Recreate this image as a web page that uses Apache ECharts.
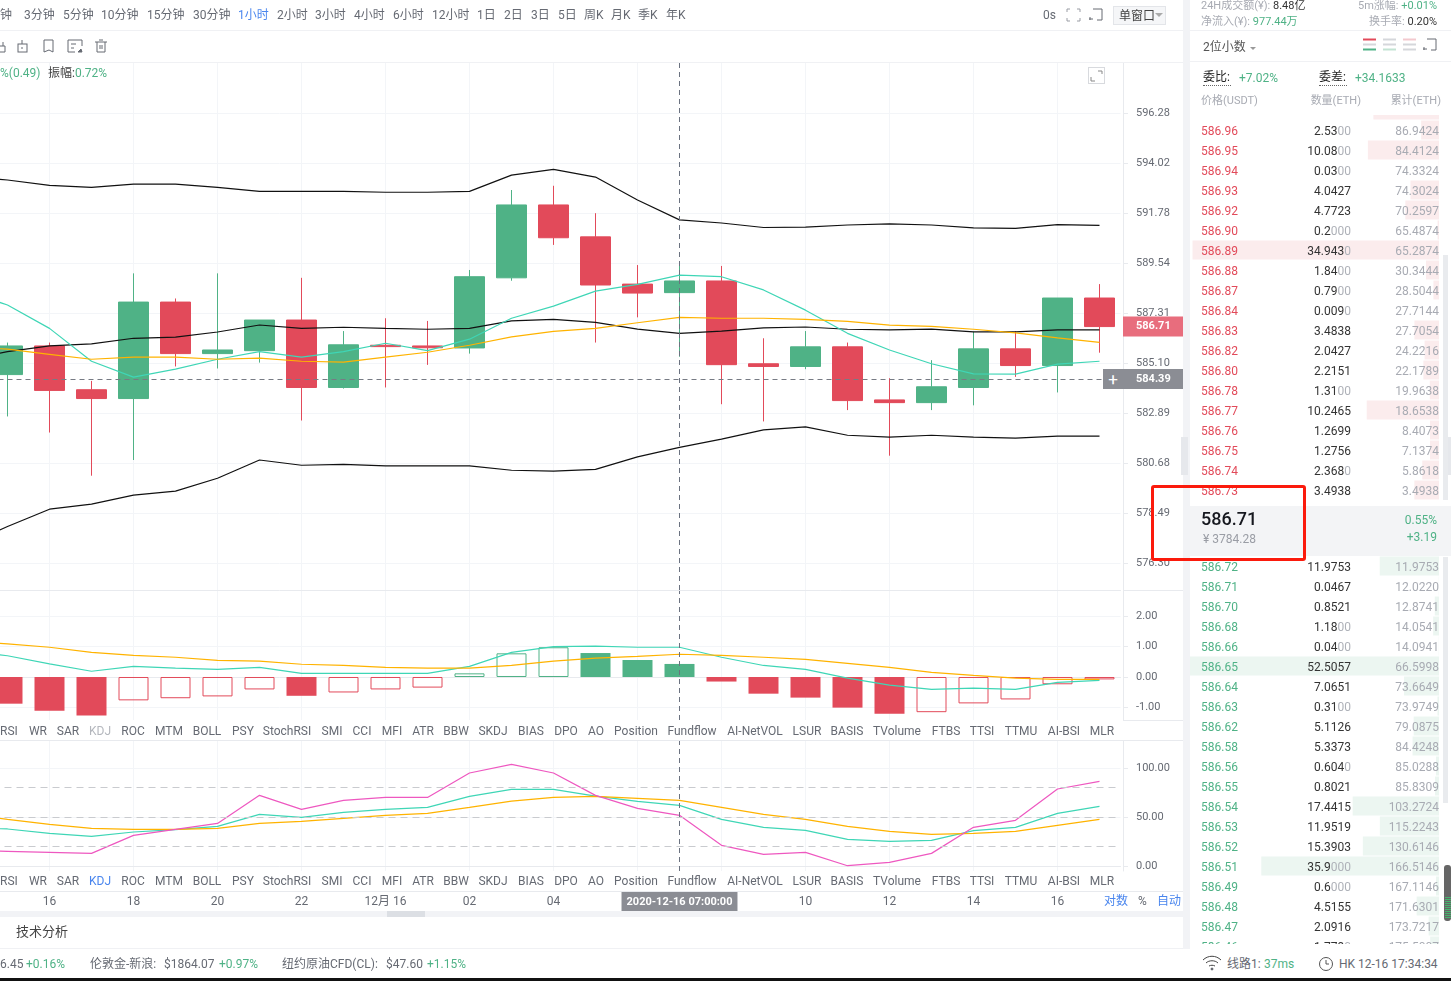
<!DOCTYPE html>
<html>
<head>
<meta charset="utf-8">
<title>ETH/USDT</title>
<script src="https://cdn.jsdelivr.net/npm/echarts@6/dist/echarts.min.js"></script>
<style>
html,body{margin:0;padding:0;background:#fff;overflow:hidden}
#page{position:relative;width:1451px;height:981px;overflow:hidden;font-family:Roboto,"Noto Sans CJK SC",sans-serif;font-size:12px;color:#666a73}
#chart{position:absolute;left:0;top:0;width:1451px;height:981px;z-index:1}
.t{position:absolute;white-space:nowrap;transform:translateY(-50%);z-index:2;line-height:16px}
.b{position:absolute;z-index:3}
</style>
</head>
<body>
<div id="page">
  <div id="chart"></div>
</div>
<script>
var RED = '#e24a5a', GREEN = '#4fb286', TEAL = '#3fd6b6', ORANGE = '#ffb300', PINK = '#ee58c0', BLUE = '#4a86ee';

// 横轴，第一根在画面左边外
var categories = ['', '', '16', '', '18', '', '20', '', '22', '', '12月 16', '', '02', '', '04', '', '', '2020-12-16 07:00:00', '', '', '10', '', '12', '', '14', '', '16', ''];

// K线
var candleOpen  = ['-',584.58,585.85,583.91,583.52,587.80,585.51,585.64,587.00,584.01,585.88,585.85,585.76,588.88,592.14,590.71,588.60,588.22,588.74,585.06,584.94,585.81,583.46,583.34,584.01,585.72,584.98,587.98];
var candleClose = ['-',585.85,583.88,583.52,587.80,585.51,585.67,587.00,584.01,585.90,585.82,585.77,588.93,592.14,590.67,588.56,588.20,588.74,585.02,584.94,585.81,583.43,583.34,584.04,585.72,584.98,587.98,586.71];
var candleLow   = ['-',582.73,582.02,580.12,580.81,584.94,584.85,585.11,582.55,583.96,584.01,585.01,585.51,588.75,590.35,586.00,587.12,585.37,583.27,582.51,584.82,583.01,581.00,583.01,583.22,584.48,583.79,585.55];
var candleHigh  = ['-',586.00,586.00,584.30,589.08,587.96,589.08,587.00,588.88,586.51,587.08,586.96,589.23,592.81,593.00,591.77,589.45,589.57,589.41,586.19,586.51,586.00,584.42,585.22,586.48,586.51,587.98,588.60];

// BOLL 和均线
var bollUpper = [593.39,593.26,593.02,592.93,593.07,593.07,592.93,592.75,592.75,592.75,592.71,592.71,592.75,593.48,593.74,593.39,592.36,591.47,591.33,591.13,591.15,591.24,591.29,591.24,591.11,591.09,591.26,591.22];
var bollMid   = [585.23,585.60,585.85,585.94,586.19,586.24,586.47,586.78,586.63,586.68,586.63,586.59,586.63,586.96,587.03,586.90,586.60,586.41,586.51,586.65,586.69,586.59,586.56,586.60,586.47,586.47,586.56,586.56];
var bollLower = [577.09,577.89,578.65,578.87,579.27,579.44,580.01,580.81,580.58,580.62,580.55,580.55,580.55,580.36,580.32,580.40,580.95,581.37,581.73,582.14,582.27,581.90,581.82,581.90,581.82,581.77,581.86,581.86];
var maFast    = [588.29,587.67,586.63,585.17,584.47,584.82,585.26,585.60,585.35,585.60,585.97,585.64,586.15,587.08,587.62,588.29,588.59,589.00,588.93,588.34,587.44,586.41,585.67,585.06,584.61,584.60,585.04,585.17];
var maSlow    = [585.80,585.71,585.48,585.26,585.35,585.35,585.26,585.31,585.17,585.13,585.35,585.57,585.88,586.25,586.50,586.63,586.88,587.12,587.08,587.08,587.03,586.94,586.77,586.72,586.59,586.43,586.21,586.01];

// MACD
var macdBar    = ['-',-0.88,-1.11,-1.27,-0.77,-0.70,-0.64,-0.41,-0.62,-0.51,-0.41,-0.35,0.12,0.78,0.98,0.79,0.56,0.43,-0.15,-0.55,-0.68,-1.01,-1.21,-1.16,-0.87,-0.74,-0.24,-0.08];
var macdHollow = [0,0,0,0,1,1,1,1,0,1,1,1,1,1,1,0,0,0,0,0,0,0,0,1,1,1,1,1];
var macdDif    = [0.85,0.70,0.43,0.19,0.35,0.29,0.25,0.32,0.12,0.12,0.12,0.12,0.35,0.81,1.00,1.02,0.98,0.98,0.65,0.38,0.25,-0.04,-0.27,-0.41,-0.37,-0.41,-0.18,-0.11];
var macdDea    = [1.20,1.09,0.98,0.81,0.71,0.65,0.55,0.52,0.42,0.38,0.32,0.29,0.29,0.38,0.52,0.62,0.68,0.75,0.71,0.65,0.58,0.45,0.32,0.15,0.05,-0.04,-0.08,-0.08];

// KDJ
var kdjK = [39,37.8,33.3,30.3,34.7,37.1,40.5,52.7,49.7,54.8,57.8,59.9,71.1,78.2,78.2,71.4,66,61.9,47.6,39.5,36.4,27.2,25.2,26.2,36.1,39.5,53.7,60.9];
var kdjD = [53,47.6,42.5,38.4,37.4,37.4,38.4,43.5,45.6,48.6,51.7,53.7,59.9,66.3,70,71.1,69,67,59.9,52.7,47.6,40.5,35.4,32.3,33.3,35.4,41.5,47.6];
var kdjJ = [16,15,13.9,12.9,31.3,37.4,43.5,72.1,57.8,67,70,70,94.9,103.7,94.9,72.1,58.8,51.7,21.1,11.9,13.9,0.3,3.7,12.9,39.5,46.6,78.6,86.4];

// 刻度
var priceTicks = [576.30,578.49,580.68,582.89,585.10,587.31,589.54,591.78,594.02,596.28];
var macdTicks = [-1,0,1,2];
var kdjTicks = [0,50,100];
var kdjLevels = [20,50,80];

// 卖盘，第一行被表头挡住
var askPrice = ['', '586.96','586.95','586.94','586.93','586.92','586.90','586.89','586.88','586.87','586.84','586.83','586.82','586.80','586.78','586.77','586.76','586.75','586.74','586.73'];
var askQty   = ['9.3000','2.5300','10.0800','0.0300','4.0427','4.7723','0.2000','34.9430','1.8400','0.7900','0.0090','3.4838','2.0427','2.2151','1.3100','10.2465','1.2699','1.2756','2.3680','3.4938'];
var askSum   = ['', '86.9424','84.4124','74.3324','74.3024','70.2597','65.4874','65.2874','30.3444','28.5044','27.7144','27.7054','24.2216','22.1789','19.9638','18.6538','8.4073','7.1374','5.8618','3.4938'];
// 买盘，最后一行被底栏挡住
var bidPrice = ['586.72','586.71','586.70','586.68','586.66','586.65','586.64','586.63','586.62','586.58','586.56','586.55','586.54','586.53','586.52','586.51','586.49','586.48','586.47','586.46'];
var bidQty   = ['11.9753','0.0467','0.8521','1.1800','0.0400','52.5057','7.0651','0.3100','5.1126','5.3373','0.6040','0.8021','17.4415','11.9519','15.3903','35.9000','0.6000','4.5155','2.0916','1.7790'];
var bidSum   = ['11.9753','12.0220','12.8741','14.0541','14.0941','66.5998','73.6649','73.9749','79.0875','84.4248','85.0288','85.8309','103.2724','115.2243','130.6146','166.5146','167.1146','171.6301','173.7217','175.5007'];

var periods = [['钟',0],['3分钟',24],['5分钟',63],['10分钟',101],['15分钟',147],['30分钟',193],['1小时',238],['2小时',277],['3小时',315],['4小时',354],['6小时',393],['12小时',432],['1日',477],['2日',504],['3日',531],['5日',558],['周K',584],['月K',611],['季K',638],['年K',666]];
var indicators = [['RSI',9],['WR',38],['SAR',68],['KDJ',100],['ROC',133],['MTM',169],['BOLL',207],['PSY',243],['StochRSI',287],['SMI',332],['CCI',362],['MFI',392],['ATR',423],['BBW',456],['SKDJ',493],['BIAS',531],['DPO',566],['AO',596],['Position',636],['Fundflow',692],['AI-NetVOL',755],['LSUR',807],['BASIS',847],['TVolume',897],['FTBS',946],['TTSI',982],['TTMU',1021],['AI-BSI',1064],['MLR',1102]];

var page = document.getElementById('page');

function txt(x, y, s, color, extra) {
  var d = document.createElement('div');
  d.className = 't';
  d.style.left = x + 'px';
  d.style.top = (y + 1) + 'px';
  if (color) d.style.color = color;
  d.innerHTML = s;
  if (extra) d.style.cssText += extra;
  page.appendChild(d);
  return d;
}
// 右对齐
function txtR(x, y, s, color, extra) {
  return txt(0, y, s, color, 'left:auto;right:' + (1451 - x) + 'px;' + (extra || ''));
}
function box(x, y, w, h, css, html) {
  var d = document.createElement('div');
  d.className = 'b';
  d.style.cssText = 'left:' + x + 'px;top:' + y + 'px;width:' + w + 'px;height:' + h + 'px;' + css;
  if (html) d.innerHTML = html;
  page.appendChild(d);
  return d;
}
function svg(x, y, w, h, body) {
  return box(x, y, w, h, 'z-index:4', '<svg width="' + w + '" height="' + h + '" fill="none" stroke="#666a73" stroke-width="1">' + body + '</svg>');
}

function candleRows() {
  return candleOpen.map(function (o, i) {
    return [o, candleClose[i], candleLow[i], candleHigh[i]];
  });
}
function macdRows() {
  return macdBar.map(function (v, i) {
    var c = v > 0 ? GREEN : RED;
    return {
      value: v,
      itemStyle: macdHollow[i] ? {color: 'rgba(255,255,255,0)', borderColor: c, borderWidth: 1} : {color: c}
    };
  });
}
function lineSeries(name, data, color, xi, yi, extra) {
  var s = {
    name: name, type: 'line', xAxisIndex: xi, yAxisIndex: yi, data: data,
    symbol: 'none', silent: true, lineStyle: {color: color, width: 1.2}, z: 4
  };
  if (extra) s.markLine = extra;
  return s;
}
function crossLine() {
  return {xAxis: 17, lineStyle: {color: '#6b7280', type: [5, 4], width: 1}, label: {show: false}};
}
function kdjMark() {
  var d = kdjLevels.map(function (v) {
    return {yAxis: v, lineStyle: {color: '#c9cbcf', type: [7, 5], width: 1}, label: {show: false}};
  });
  d.push(crossLine());
  return {symbol: 'none', silent: true, animation: false, data: d};
}
function priceTag(v, bg, line) {
  return {
    yAxis: v, lineStyle: line,
    label: {
      show: true, position: 'end', distance: 2.5, formatter: v.toFixed(2), color: '#fff', fontSize: 11, fontWeight: 'bold',
      fontFamily: 'Roboto', backgroundColor: bg, width: 47, height: 20, lineHeight: 20, align: 'left', padding: [0, 0, 0, 13]
    }
  };
}
function xAxisFor(grid, showLabel) {
  return {
    type: 'category', gridIndex: grid, data: categories, boundaryGap: true,
    axisLine: {show: true, lineStyle: {color: '#e8eaee'}},
    axisTick: {show: false},
    splitLine: {
      show: true, alignWithLabel: true,
      interval: function (i) { return i % 2 === 0 && i > 0; },
      lineStyle: {color: '#f3f5f8'}
    },
    axisLabel: {
      show: showLabel, margin: 31, verticalAlign: 'middle', color: '#666a73', fontSize: 12,
      fontFamily: 'Roboto, "Noto Sans CJK SC"',
      interval: function (i, v) { return v !== ''; },
      formatter: function (v) { return v.length > 8 ? '{tag|' + v + '}' : v; },
      rich: {tag: {color: '#fff', backgroundColor: '#8b8d94', padding: [5, 5, 4, 5], fontSize: 11, fontWeight: 'bold'}}
    }
  };
}
function yAxisFor(grid, ticks, min, max, digits, extra) {
  var y = {
    type: 'value', gridIndex: grid, position: 'right', offset: 2.5, min: min, max: max,
    axisLine: {show: true, lineStyle: {color: '#e8eaee'}},
    axisTick: {show: true, length: 5, customValues: ticks, lineStyle: {color: '#e8eaee'}},
    splitLine: {show: true, lineStyle: {color: '#f3f5f8'}},
    axisLabel: {
      margin: 13, color: '#666a73', fontSize: 11, fontFamily: 'Roboto', customValues: ticks, padding: [2, 0, 0, 0],
      formatter: function (v) { return v.toFixed(digits); }
    }
  };
  if (extra) for (var k in extra) y[k] = extra[k];
  return y;
}

var chart = echarts.init(document.getElementById('chart'), null, {renderer: 'canvas'});
chart.setOption({
  animation: false,
  grid: [
    {left: -55.5, width: 1176, top: 63, height: 527, outerBoundsMode: 'none'},
    {left: -55.5, width: 1176, top: 591, height: 129, outerBoundsMode: 'none'},
    {left: -55.5, width: 1176, top: 741, height: 130, outerBoundsMode: 'none'},
    {left: 1190, width: 249, top: 100, height: 400},
    {left: 1190, width: 249, top: 556, height: 400}
  ],
  xAxis: [
    xAxisFor(0, false), xAxisFor(1, false), xAxisFor(2, true),
    {type: 'value', gridIndex: 3, inverse: true, min: 0, max: 35.3, show: false},
    {type: 'value', gridIndex: 4, inverse: true, min: 0, max: 50.3, show: false}
  ],
  yAxis: [
    yAxisFor(0, priceTicks, 575.12, 598.54, 2, {type: 'log', logBase: Math.E}),
    yAxisFor(1, macdTicks, -1.418, 2.835, 2),
    yAxisFor(2, kdjTicks, -5.1, 127.6, 2),
    {type: 'category', gridIndex: 3, inverse: true, data: askQty, show: false},
    {type: 'category', gridIndex: 4, inverse: true, data: bidQty, show: false}
  ],
  series: [
    {
      name: 'K', type: 'candlestick', xAxisIndex: 0, yAxisIndex: 0, data: candleRows(),
      barWidth: 31, clip: false, silent: true,
      itemStyle: {color: GREEN, color0: RED, borderColor: GREEN, borderColor0: RED, borderWidth: 1},
      markLine: {
        symbol: 'none', silent: true, animation: false,
        data: [
          crossLine(),
          priceTag(584.39, '#8b8d94', {color: '#777b84', type: [5, 4], width: 1}),
          priceTag(586.71, '#e86d7d', {color: 'rgba(0,0,0,0)', width: 1})
        ]
      }
    },
    lineSeries('UP', bollUpper, '#111', 0, 0),
    lineSeries('MB', bollMid, '#111', 0, 0),
    lineSeries('DN', bollLower, '#111', 0, 0),
    lineSeries('MA5', maFast, TEAL, 0, 0),
    lineSeries('MA10', maSlow, ORANGE, 0, 0),
    {
      name: 'MACD', type: 'bar', xAxisIndex: 1, yAxisIndex: 1, data: macdRows(), barWidth: 30, silent: true,
      markLine: {symbol: 'none', silent: true, animation: false, data: [crossLine()]}
    },
    lineSeries('DIF', macdDif, TEAL, 1, 1),
    lineSeries('DEA', macdDea, ORANGE, 1, 1),
    lineSeries('K', kdjK, TEAL, 2, 2, kdjMark()),
    lineSeries('D', kdjD, ORANGE, 2, 2),
    lineSeries('J', kdjJ, PINK, 2, 2),
    {
      name: 'ask', type: 'bar', xAxisIndex: 3, yAxisIndex: 3, barWidth: 19, silent: true,
      data: askQty.map(parseFloat), itemStyle: {color: '#fbeced'}
    },
    {
      name: 'bid', type: 'bar', xAxisIndex: 4, yAxisIndex: 4, barWidth: 19, silent: true,
      data: bidQty.map(parseFloat), itemStyle: {color: '#ecf6f1'}
    }
  ]
});

// 分隔线和底色
box(0, 30, 1183, 1, 'background:#f0f1f4');
box(0, 62, 1183, 1, 'background:#f0f1f4');
box(0, 740, 1123, 1, 'background:#e8eaee');
box(0, 891, 1183, 1, 'background:#e8eaee');
box(1123, 590, 60, 1, 'background:#e8eaee');
box(1123, 720, 60, 1, 'background:#e8eaee');
box(1123, 740, 60, 1, 'background:#e8eaee');
box(0, 911, 1183, 6, 'background:#f2f3f6');
box(387, 911, 38, 6, 'background:#dcdfe4');
box(0, 948, 1190, 1, 'background:#f0f1f4');
box(1183, 0, 7, 949, 'background:#f2f3f6');
box(1181, 437, 7, 38, 'background:#e6e8ec');
box(1446, 437, 5, 38, 'background:#e6e8ec');
box(0, 978, 1451, 3, 'background:#111');
box(1190, 30, 261, 1, 'background:#f0f1f4');
box(1190, 61, 261, 1, 'background:#f0f1f4');
// 盘口上下遮挡
box(1190, 62, 261, 53, 'background:#fff;z-index:2');
box(1190, 944, 261, 34, 'background:#fff');
box(1190, 506, 261, 50, 'background:#f3f4f6;z-index:2');
// 滚动条
box(1443, 255, 5, 245, 'background:#e9ebee');
box(1443, 557, 5, 246, 'background:#e9ebee');
box(1444, 865, 7, 56, 'background:#666;border-radius:3px');
box(1445, 897, 6, 22, 'background:repeating-linear-gradient(#47b36e 0 1px,#666 1px 2px)');

// 顶部周期
periods.forEach(function (p) {
  txt(p[1], 14, p[0], p[0] === '1小时' ? BLUE : null);
});
txt(1043, 14, '0s');
svg(1066, 8, 15, 14, '<path d="M1 4V1h3M11 1h3v3M1 10v3h3M11 13h3v-3" stroke="#9a9da5"/>');
svg(1089, 8, 14, 14, '<path d="M4 1h9v11H8M1 9v3M0 11h4"/>');
box(1113, 6, 53, 19, 'background:#f5f6f8;border:1px solid #e3e5e9;box-sizing:border-box');
txt(1119, 15, '单窗口', '#444', 'z-index:4');
box(1155, 13, 0, 0, 'border:4px solid transparent;border-top-color:#aaa;z-index:4');
// 第二行工具
svg(0, 39, 8, 14, '<path d="M0 7h5v6H0M3 7V3"/>');
svg(16, 39, 14, 14, '<rect x="2" y="5" width="9" height="8"/><path d="M6 5V1M6 8v2"/>');
svg(42, 39, 14, 14, '<path d="M2 1h9v12l-4-2-5 2z"/>');
svg(67, 39, 16, 14, '<path d="M1 1h14M1 1v12h7M15 1v6M4 5h5M4 9h3"/><path d="M11 13l3-3 1 3z" fill="#666a73"/>');
svg(94, 39, 14, 14, '<path d="M1 3h12M3 3v10h8V3M5 1h4M6 6v4M8 6v4"/>');
// 图例
txt(0, 72, '%(0.49)', GREEN);
txt(48, 72, '振幅:<span style="color:' + GREEN + '">0.72%</span>', '#444');
svg(1088, 67, 18, 18, '<rect x=".5" y=".5" width="16" height="16" stroke="#d8dade"/><path d="M10 4h4v3M3 10v4h4" stroke="#888"/>');
box(1103, 369, 20, 20, 'background:#8b8d94;color:#fff;text-align:center;font-size:17px;line-height:20px', '+');

// 指标标签
indicators.forEach(function (p) {
  [730, 880].forEach(function (y) {
    var on = p[0] === 'KDJ';
    var d = txt(p[1], y, p[0], on ? (y === 880 ? BLUE : '#b4b7bd') : null);
    d.style.transform = 'translate(-50%,-50%)';
  });
});
txt(1104, 900, '对数', BLUE);
txt(1138, 900, '%');
txt(1157, 900, '自动', BLUE);
txt(16, 931, '技术分析', '#444', 'font-size:13px');

// 底部行情
txt(0, 963, '6.45');
txt(26, 963, '+0.16%', GREEN);
txt(90, 963, '伦敦金-新浪:');
txt(164, 963, '$1864.07');
txt(219, 963, '+0.97%', GREEN);
txt(282, 963, '纽约原油CFD(CL):');
txt(386, 963, '$47.60');
txt(427, 963, '+1.15%', GREEN);
svg(1202, 955, 20, 16, '<path d="M1 5c5-5 13-5 18 0M4 8c3-3 9-3 12 0M7 11c2-1 4-1 6 0" stroke="#444"/><circle cx="10" cy="14" r="1" fill="#444"/>');
txt(1227, 963, '线路1:', null, 'z-index:4');
txt(1264, 963, '37ms', GREEN, 'z-index:4');
svg(1318, 956, 16, 16, '<circle cx="8" cy="8" r="6.5" stroke="#555"/><path d="M8 4v4h3" stroke="#555"/>');
txt(1339, 963, 'HK 12-16 17:34:34', null, 'z-index:4');

// 盘口表头
txt(1201, 5, '24H成交额(¥): <span style="color:#333">8.48亿</span>', '#a8abb3', 'font-size:11px');
txtR(1437, 5, '5m涨幅: <span style="color:' + GREEN + '">+0.01%</span>', '#a8abb3', 'font-size:11px');
txt(1201, 21, '净流入(¥): <span style="color:' + GREEN + '">977.44万</span>', '#a8abb3', 'font-size:11px');
txtR(1437, 21, '换手率: <span style="color:#333">0.20%</span>', '#a8abb3', 'font-size:11px');
txt(1203, 46, '2位小数', '#555');
box(1250, 47, 0, 0, 'border:3.5px solid transparent;border-top-color:#999');
[[1363, RED, GREEN], [1383, '#d5d7db', '#c3e3d3'], [1403, '#f3c9ce', '#d5d7db']].forEach(function (c) {
  svg(c[0], 38, 13, 14, '<path d="M0 1.5h13" stroke="' + c[1] + '" stroke-width="2"/><path d="M0 6.5h13" stroke="#d5d7db" stroke-width="2"/><path d="M0 11.5h13" stroke="' + c[2] + '" stroke-width="2"/>');
});
svg(1423, 38, 14, 14, '<path d="M4 1h9v11H8M1 9v3M0 11h4"/>');
txt(1203, 77, '委比:', '#222', 'border-bottom:1px dotted #666;line-height:15px;padding-right:1px');
txt(1239, 77, '+7.02%', GREEN);
txt(1319, 77, '委差:', '#222', 'border-bottom:1px dotted #666;line-height:15px;padding-right:1px');
txt(1355, 77, '+34.1633', GREEN);
txt(1201, 100, '价格(USDT)', '#a8abb3', 'font-size:11px');
txtR(1361, 100, '数量(ETH)', '#a8abb3', 'font-size:11px');
txtR(1441, 100, '累计(ETH)', '#a8abb3', 'font-size:11px');

// 数量末尾的 0 灰显
function qtyHtml(q) {
  var m = q.match(/^(.*?)(0*)$/);
  return '<span style="color:#333">' + m[1] + '</span><span style="color:#aeb1b8">' + m[2] + '</span>';
}
function bookRow(y, price, qty, sum, color) {
  txt(1201, y, price, color);
  txtR(1351, y, qtyHtml(qty));
  txtR(1439, y, sum, '#a8abb3');
}
askPrice.forEach(function (p, i) {
  if (p) bookRow(110 + i * 20, p, askQty[i], askSum[i], RED);
});
bidPrice.forEach(function (p, i) {
  bookRow(566 + i * 20, p, bidQty[i], bidSum[i], GREEN);
});

// 最新价
txt(1201, 518, '586.71', '#16181f', 'font-size:18px;font-weight:500;z-index:3');
txt(1203, 538, '¥ 3784.28', '#9a9da5', 'z-index:3');
txtR(1437, 519, '0.55%', GREEN, 'z-index:3');
txtR(1437, 536, '+3.19', GREEN, 'z-index:3');

// 红框标注
box(1151, 485, 155, 76, 'box-sizing:border-box;border:3px solid #fb1a0c;border-radius:3px;z-index:5');
</script>
</body>
</html>
